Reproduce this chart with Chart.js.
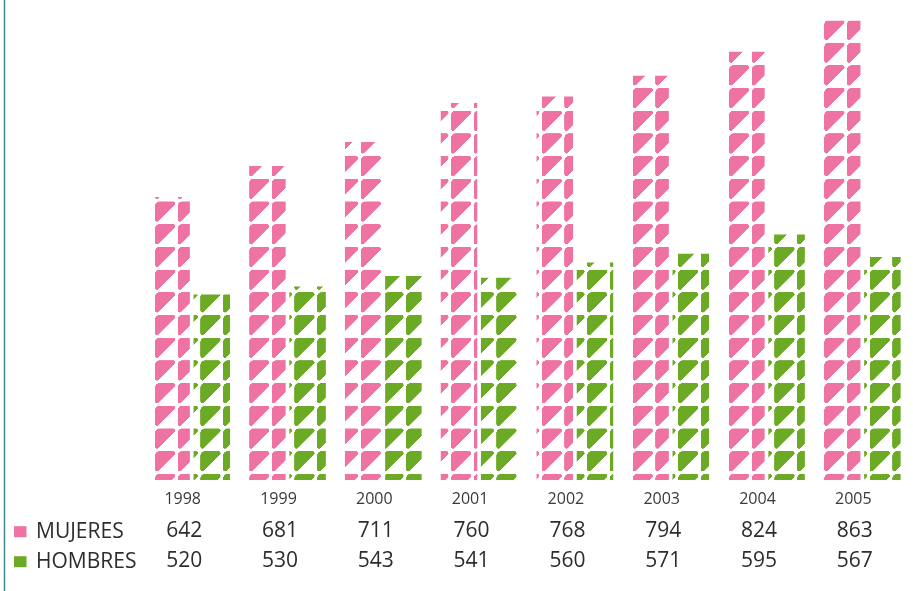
<!DOCTYPE html>
<html>
<head>
<meta charset="utf-8">
<script src="https://cdn.jsdelivr.net/npm/chart.js@4.4.1/dist/chart.umd.min.js"></script>
<style>
  html, body { margin: 0; padding: 0; background: #fff; }
  #wrap { position: relative; width: 913px; height: 591px; }
</style>
</head>
<body>
<div id="wrap"><canvas id="chart"></canvas></div>
<script>
const years = ['1998', '1999', '2000', '2001', '2002', '2003', '2004', '2005'];
const mujeres = [642, 681, 711, 760, 768, 794, 824, 863];
const hombres = [520, 530, 543, 541, 560, 571, 595, 567];
const seriesNames = ['MUJERES', 'HOMBRES'];

const PINK = '#ee72a2';
const GREEN = '#6caa26';
const TEXT = '#2d2d2d';

// Patterned fill: rounded triangles repeating every ~22.7px
const PERIOD = 22.7;
const TILE = 91;
// horizontal phase of the pattern for each year group (px)
const shiftX = [-0.9, 2.3, 0.5, 0, -0.1, 0.1, 5.6, 10.1];

const makeTile = (color) => {
  const c = document.createElement('canvas');
  c.width = c.height = TILE;
  const g = c.getContext('2d');
  const s = TILE / PERIOD;
  g.scale(s, s);
  g.fillStyle = color;
  const w = 23;
  g.beginPath();
  g.moveTo(w / 2, 0);
  g.arcTo(w, 0, 0, w, 2);   // top right tip
  g.arcTo(0, w, 0, 0, 2);   // bottom left tip
  g.arcTo(0, 0, w, 0, 4.5); // rounded top left
  g.closePath();
  g.fill();
  return c;
};

const canvas = document.getElementById('chart');
const ctx2d = canvas.getContext('2d');

const makePatterns = (color) => {
  const tile = makeTile(color);
  const k = PERIOD / TILE;
  return shiftX.map(dx => {
    const p = ctx2d.createPattern(tile, 'repeat');
    p.setTransform(new DOMMatrix([k, 0, 0, k, 19.7 + dx, 19.9]));
    return p;
  });
};

const pinkFill = makePatterns(PINK);
const greenFill = makePatterns(GREEN);

// Left rule, legend keys and the value table under the bars
const tablePlugin = {
  id: 'table',
  afterDraw(chart) {
    const { ctx } = chart;
    const xs = chart.scales.x;
    ctx.save();
    ctx.strokeStyle = '#3a8a8f';
    ctx.lineWidth = 1.5;
    ctx.beginPath();
    ctx.moveTo(4.5, 0);
    ctx.lineTo(4.5, chart.height);
    ctx.stroke();

    const rows = [
      { values: mujeres, color: PINK, y: 536.7 },
      { values: hombres, color: GREEN, y: 566.7 }
    ];
    ctx.font = '21px "Open Sans"';
    ctx.textBaseline = 'alphabetic';
    rows.forEach((row, r) => {
      ctx.fillStyle = row.color;
      ctx.fillRect(14, row.y - 10.5, 12.5, 11);
      ctx.fillStyle = TEXT;
      ctx.textAlign = 'left';
      ctx.fillText(seriesNames[r], 36, row.y + 1.6);
      ctx.textAlign = 'center';
      row.values.forEach((v, i) => {
        ctx.fillText(String(v), xs.getPixelForValue(i) - 7.5, row.y);
      });
    });
    ctx.restore();
  }
};

new Chart(canvas, {
  type: 'bar',
  data: {
    labels: years,
    datasets: [
      {
        label: seriesNames[0],
        data: mujeres,
        backgroundColor: (c) => pinkFill[c.dataIndex] || PINK,
        borderWidth: 0
      },
      {
        label: seriesNames[1],
        data: hombres,
        backgroundColor: (c) => greenFill[c.dataIndex] || GREEN,
        borderWidth: 0
      }
    ]
  },
  options: {
    responsive: true,
    maintainAspectRatio: false,
    animation: false,
    events: [],
    layout: { padding: { left: 143.8, right: 2.8, top: 0, bottom: 72.8 } },
    datasets: { bar: { categoryPercentage: 0.839, barPercentage: 0.908 } },
    plugins: { legend: { display: false }, tooltip: { enabled: false } },
    scales: {
      x: {
        grid: { display: false, drawTicks: false },
        border: { display: false },
        ticks: {
          color: '#3a3a3a',
          font: { family: 'Open Sans', size: 16 },
          padding: 9.5,
          labelOffset: -9,
          maxRotation: 0
        }
      },
      y: {
        display: false,
        min: 287.4,
        max: 889
      }
    }
  },
  plugins: [tablePlugin]
});
</script>
</body>
</html>
